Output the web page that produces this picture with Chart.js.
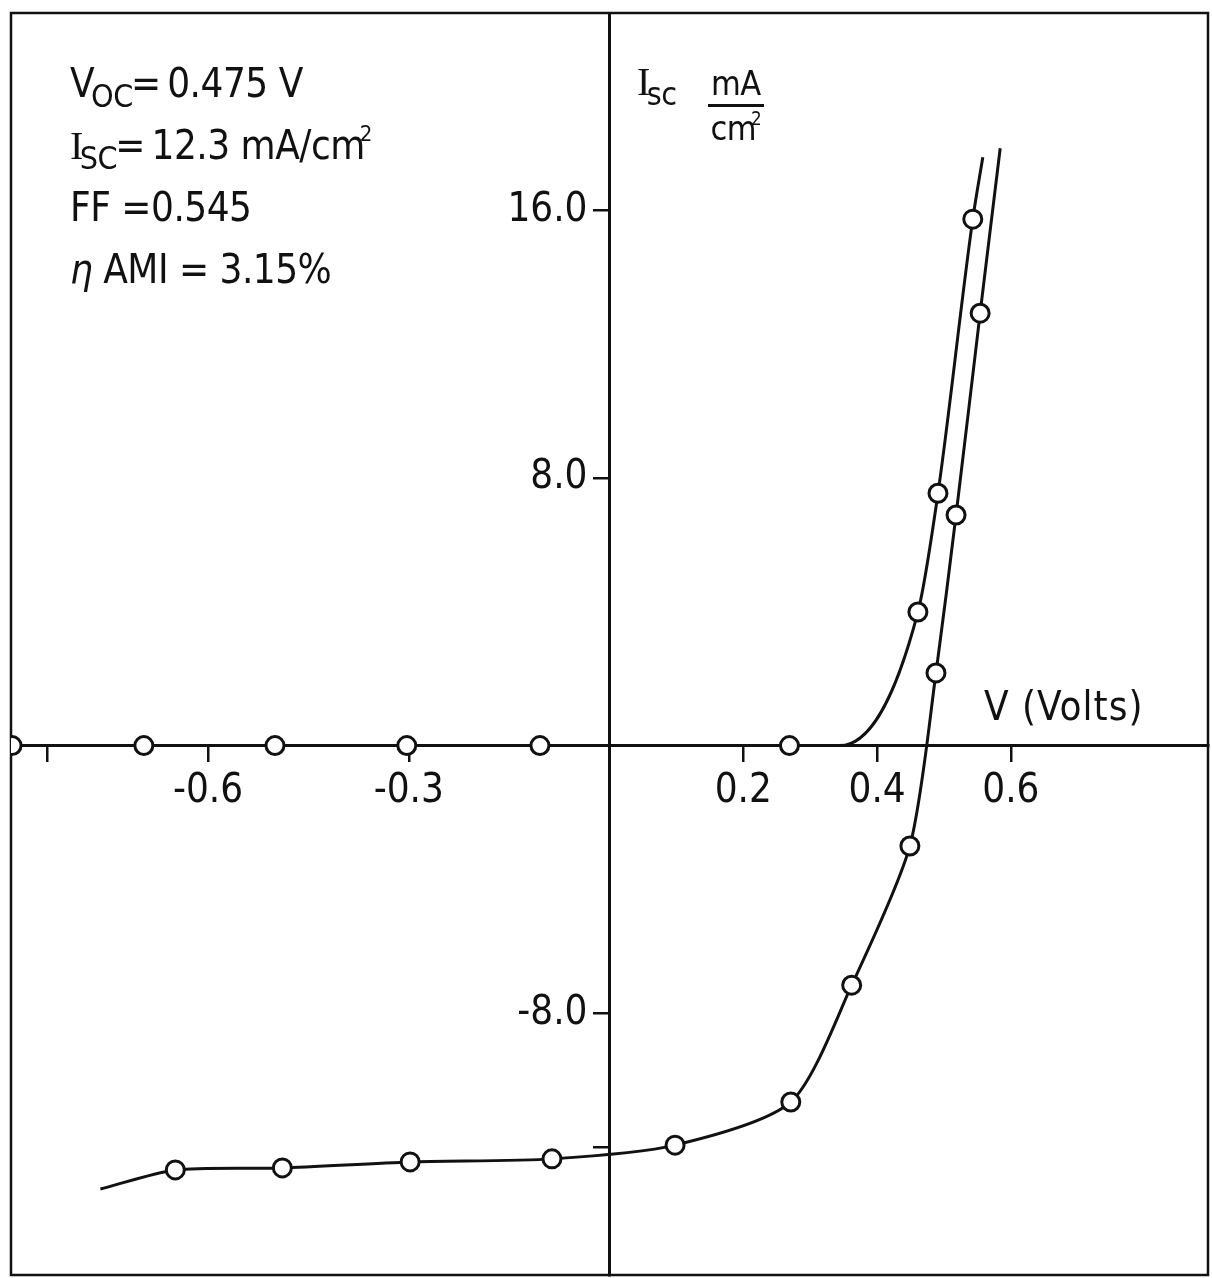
<!DOCTYPE html>
<html lang="en">
<head>
<meta charset="utf-8" />
<title>Solar cell I-V characteristic</title>
<script src="https://cdn.jsdelivr.net/npm/chart.js@4.4.1/dist/chart.umd.min.js"></script>
<style>
  html, body { margin: 0; padding: 0; background: #fff; }
  #wrap { position: relative; width: 1212px; height: 1278px; }
  #chart { position: absolute; left: 0; top: 0; }
  .ann {
    position: absolute;
    font-family: 'Liberation Sans Narrow', 'DejaVu Sans Condensed', 'Liberation Sans', sans-serif;
    font-size: 40px;
    line-height: 62px;
    color: #111;
    white-space: nowrap;
    letter-spacing: -0.5px;
  }
  .sub { font-size: 0.8em; position: relative; top: 0.32em; margin-left: -3px; margin-right: -2px; }
  .sup { font-size: 0.55em; position: relative; top: -0.8em; margin-left: -5px; }
  .serif { font-family: 'Liberation Serif', 'DejaVu Serif', serif; }
  .frac { font-size: 34px; line-height: 1; text-align: center; }
  .frac .num { display: block; border-bottom: 3px solid #111; padding: 0 3px 4px; }
  .frac .den { display: block; padding-top: 4px; }
</style>
</head>
<body>
<div id="wrap">
  <canvas id="chart" width="1212" height="1278"></canvas>

  <div class="ann" style="left:70px; top:52px;">V<span class="sub">OC</span>=&#8201;0.475 V</div>
  <div class="ann" style="left:70px; top:114px;"><span class="serif">I</span><span class="sub">SC</span>=&#8201;12.3 mA/cm<span class="sup">2</span></div>
  <div class="ann" style="left:70px; top:176px;">FF =0.545</div>
  <div class="ann" style="left:70px; top:238px;"><i>η</i> AMI = 3.15%</div>

  <div class="ann" style="left:637px; top:50px;"><span class="serif">I</span><span class="sub">sc</span></div>
  <div class="ann frac" style="left:708px; top:66px;"><span class="num">mA</span><span class="den">cm<span class="sup">2</span></span></div>

  <div class="ann" style="left:984px; top:675px; letter-spacing:1px;">V (Volts)</div>
</div>

<script>
  // measured points (open circles), volts / mA per cm2
  const LOWER_V = [-0.649, -0.489, -0.298, -0.086, 0.098, 0.271, 0.362, 0.449, 0.488, 0.518, 0.554];
  const LOWER_I = [-12.68, -12.62, -12.44, -12.35, -11.94, -10.65, -7.16, -3.00, 2.17, 6.89, 12.92];
  // where the drawn lower curve runs on without a marker (its free ends)
  const LOWER_TRACE_V = [-0.761, 0.584];
  const LOWER_TRACE_I = [-13.25, 17.85];

  const UPPER_V = [-0.893, -0.696, -0.500, -0.303, -0.104, 0.269, 0.461, 0.491, 0.543];
  const UPPER_I = [0, 0, 0, 0, 0, 0, 3.99, 7.54, 15.73];
  // where the upper curve leaves the axis, and its top end
  const UPPER_TRACE_V = [0.344, 0.558];
  const UPPER_TRACE_I = [0, 17.58];

  const X_TICKS = [-0.84, -0.6, -0.3, 0.2, 0.4, 0.6];
  const X_TICK_LABELS = ['', '-0.6', '-0.3', '0.2', '0.4', '0.6'];
  const Y_TICKS = [16, 8, -8, -12];
  const Y_TICK_LABELS = ['16.0', '8.0', '-8.0', ''];
  const X_RANGE = [-0.8946, 0.8946];
  const Y_RANGE = [-15.82, 21.89];

  const INK = '#111';
  const FONT = "'Liberation Sans Narrow', 'DejaVu Sans Condensed', 'Liberation Sans', sans-serif";

  function curve(v, i, tv, ti) {
    const pts = v.map((x, k) => ({ x, y: i[k], mark: true }))
      .concat(tv.map((x, k) => ({ x, y: ti[k], mark: false })));
    return pts.sort((a, b) => a.x - b.x);
  }

  // box around the plot
  const frame = {
    id: 'frame',
    beforeDraw(chart) {
      const { ctx, chartArea: a } = chart;
      ctx.save();
      ctx.strokeStyle = INK;
      ctx.lineWidth = 2.5;
      ctx.strokeRect(a.left, a.top, a.right - a.left, a.bottom - a.top);
      ctx.restore();
    },
  };

  function lineSet(data, smooth) {
    return {
      data,
      ...smooth,
      borderColor: INK,
      borderWidth: 3,
      pointStyle: 'circle',
      pointRadius: (c) => (c.raw && c.raw.mark ? 9 : 0),
      pointHoverRadius: (c) => (c.raw && c.raw.mark ? 9 : 0),
      pointBackgroundColor: '#fff',
      pointBorderColor: INK,
      pointBorderWidth: 3,
    };
  }

  const axisCommon = {
    type: 'linear',
    bounds: 'data',
    grid: { drawOnChartArea: false, drawTicks: true, tickLength: 15, color: INK, lineWidth: 2.5 },
    border: { display: true, color: INK, width: 3 },
  };

  new Chart(document.getElementById('chart'), {
    type: 'line',
    data: {
      datasets: [
        lineSet(curve(LOWER_V, LOWER_I, LOWER_TRACE_V, LOWER_TRACE_I), { tension: 0.25 }),
        lineSet(curve(UPPER_V, UPPER_I, UPPER_TRACE_V, UPPER_TRACE_I), { cubicInterpolationMode: 'monotone' }),
      ],
    },
    options: {
      responsive: false,
      animation: false,
      events: [],
      devicePixelRatio: 1,
      layout: { autoPadding: false, padding: { left: 11, top: 13, right: 4, bottom: 3 } },
      plugins: { legend: { display: false }, tooltip: { enabled: false } },
      scales: {
        x: {
          ...axisCommon,
          position: { y: 0 },
          min: X_RANGE[0],
          max: X_RANGE[1],
          afterBuildTicks: (s) => { s.ticks = X_TICKS.map((value) => ({ value })); },
          afterFit: (s) => { s.height = 0; s.paddingLeft = 0; s.paddingRight = 0; },
          ticks: {
            autoSkip: false,
            maxRotation: 0,
            padding: 7,
            color: INK,
            font: { family: FONT, size: 40 },
            callback: (v, i) => X_TICK_LABELS[i],
          },
        },
        y: {
          ...axisCommon,
          // x range is symmetric, so the centre line is V = 0
          position: 'center',
          min: Y_RANGE[0],
          max: Y_RANGE[1],
          afterBuildTicks: (s) => { s.ticks = Y_TICKS.map((value) => ({ value })); },
          afterFit: (s) => { s.width = 0; s.paddingTop = 0; s.paddingBottom = 0; },
          ticks: {
            autoSkip: false,
            padding: 7,
            color: INK,
            font: { family: FONT, size: 40 },
            callback: (v, i) => Y_TICK_LABELS[i],
          },
        },
      },
    },
    plugins: [frame],
  });
</script>
</body>
</html>
